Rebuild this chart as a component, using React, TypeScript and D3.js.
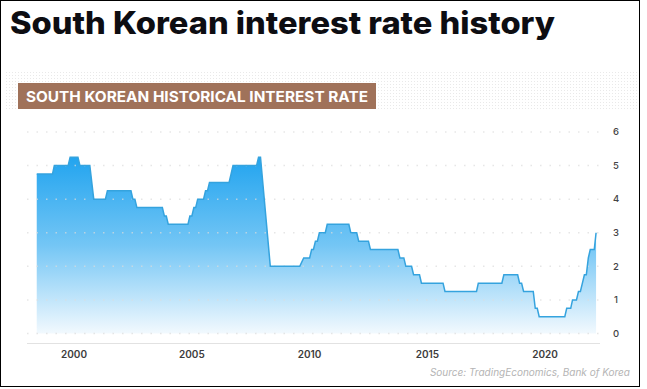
import React, { useEffect, useRef } from 'react';
import * as d3 from 'd3';

// corner points of the drawn line (month, rate %)
const months = [
  '1998-06', '1999-02', '1999-03', '1999-10', '1999-11', '2000-03', '2000-04', '2000-09', '2000-11',
  '2001-05', '2001-06', '2002-06', '2002-07', '2002-08', '2002-09', '2003-10', '2003-11', '2003-12',
  '2004-01', '2004-11', '2004-12', '2005-01', '2005-02', '2005-03', '2005-04', '2005-07', '2005-08',
  '2005-09', '2005-10', '2006-08', '2006-09', '2006-10', '2007-10', '2007-11', '2007-12', '2008-05',
  '2009-08', '2009-10', '2010-01', '2010-02', '2010-03', '2010-04', '2010-05', '2010-06', '2010-09',
  '2010-10', '2011-09', '2011-10', '2012-01', '2012-02', '2012-07', '2012-08', '2013-10', '2013-11',
  '2014-01', '2014-02', '2014-05', '2014-06', '2014-09', '2014-10', '2015-09', '2015-10', '2017-02',
  '2017-03', '2018-03', '2018-04', '2018-11', '2018-12', '2019-01', '2019-02', '2019-07', '2019-08',
  '2019-09', '2019-10', '2020-11', '2020-12', '2021-02', '2021-03', '2021-05', '2021-06', '2021-07',
  '2021-08', '2021-09', '2021-10', '2021-11', '2021-12', '2022-02', '2022-03',
];
const rates = [
  4.75, 4.75, 5.0, 5.0, 5.25, 5.25, 5.0, 5.0, 4.0,
  4.0, 4.25, 4.25, 4.0, 4.0, 3.75, 3.75, 3.5, 3.5,
  3.25, 3.25, 3.5, 3.5, 3.75, 3.75, 4.0, 4.0, 4.25,
  4.25, 4.5, 4.5, 4.75, 5.0, 5.0, 5.25, 5.25, 2.0,
  2.0, 2.25, 2.25, 2.5, 2.5, 2.75, 2.75, 3.0, 3.0,
  3.25, 3.25, 3.0, 3.0, 2.75, 2.75, 2.5, 2.5, 2.25,
  2.25, 2.0, 2.0, 1.75, 1.75, 1.5, 1.5, 1.25, 1.25,
  1.5, 1.5, 1.75, 1.75, 1.5, 1.5, 1.25, 1.25, 0.75,
  0.75, 0.5, 0.5, 0.75, 0.75, 1.0, 1.0, 1.25, 1.25,
  1.5, 1.75, 1.75, 2.25, 2.5, 2.5, 3.0,
];
const yTicks = [0, 1, 2, 3, 4, 5, 6];
const xTickYears = [2000, 2005, 2010, 2015, 2020];

const W = 647;
const H = 389;

export default function App() {
  const ref = useRef<SVGSVGElement>(null);

  useEffect(() => {
    const svg = d3.select(ref.current).html('');
    const parse = d3.timeParse('%Y-%m');
    const data = months.map((m, i) => ({ date: parse(m) as Date, value: rates[i] }));

    const x = d3.scaleTime()
      .domain([new Date(1998, 0, 1), new Date(2022, 4, 1)])
      .range([27, 600]);
    const y = d3.scaleLinear().domain([0, 6]).range([333.5, 132]);

    const defs = svg.append('defs');
    const grad = defs.append('linearGradient')
      .attr('id', 'fillGrad')
      .attr('gradientUnits', 'userSpaceOnUse')
      .attr('x1', 0).attr('x2', 0)
      .attr('y1', y(5.25)).attr('y2', y(0));
    grad.append('stop').attr('offset', '0%').attr('stop-color', '#22a4ef');
    grad.append('stop').attr('offset', '50%').attr('stop-color', '#74c6f5');
    grad.append('stop').attr('offset', '100%').attr('stop-color', '#f2f9fe');

    const pat = defs.append('pattern')
      .attr('id', 'dots')
      .attr('width', 3).attr('height', 3)
      .attr('patternUnits', 'userSpaceOnUse');
    pat.append('rect').attr('width', 1).attr('height', 1).attr('fill', '#e9e9e9');

    // frame
    svg.append('rect')
      .attr('x', 0.5).attr('y', 0.5)
      .attr('width', 639).attr('height', 386)
      .attr('fill', '#fff').attr('stroke', '#000');

    // title
    svg.append('text')
      .attr('x', 10).attr('y', 34)
      .attr('textLength', 545)
      .attr('lengthAdjust', 'spacingAndGlyphs')
      .style('font-family', 'Inter, "Noto Sans", sans-serif')
      .style('font-size', '31px')
      .style('font-weight', 800)
      .attr('fill', '#0d0d12')
      .text('South Korean interest rate history');

    // textured band + label
    svg.append('rect')
      .attr('x', 6).attr('y', 70).attr('width', 633).attr('height', 40)
      .attr('fill', 'url(#dots)');
    svg.append('rect')
      .attr('x', 18).attr('y', 83).attr('width', 358).attr('height', 26)
      .attr('fill', '#a0725a');
    svg.append('text')
      .attr('x', 26).attr('y', 102)
      .attr('textLength', 342)
      .attr('lengthAdjust', 'spacingAndGlyphs')
      .style('font-family', 'Inter, "Noto Sans", sans-serif')
      .style('font-size', '15px')
      .style('font-weight', 700)
      .attr('fill', '#fff')
      .text('SOUTH KOREAN HISTORICAL INTEREST RATE');

    // area + line
    const area = d3.area<{ date: Date; value: number }>()
      .x(d => x(d.date))
      .y0(y(0))
      .y1(d => y(d.value));
    svg.append('path')
      .datum(data)
      .attr('d', area)
      .attr('fill', 'url(#fillGrad)');

    // gridlines
    svg.append('g')
      .selectAll('line')
      .data(yTicks)
      .enter().append('line')
      .attr('x1', 27).attr('x2', 600)
      .attr('y1', d => y(d)).attr('y2', d => y(d))
      .attr('stroke', '#dcdcdc')
      .attr('stroke-opacity', 0.7)
      .attr('stroke-width', 1.5)
      .attr('stroke-dasharray', '1.5 8');

    const line = d3.line<{ date: Date; value: number }>()
      .x(d => x(d.date))
      .y(d => y(d.value));
    svg.append('path')
      .datum(data)
      .attr('d', line)
      .attr('fill', 'none')
      .attr('stroke', '#35a3de')
      .attr('stroke-width', 1.5);

    // x axis
    svg.append('line')
      .attr('x1', 27).attr('x2', 600)
      .attr('y1', 343.5).attr('y2', 343.5)
      .attr('stroke', '#e2e2e2');
    svg.append('g')
      .selectAll('text')
      .data(xTickYears)
      .enter().append('text')
      .attr('x', d => x(new Date(d, 0, 1)))
      .attr('y', 358)
      .attr('text-anchor', 'middle')
      .style('font-family', 'Inter, "Noto Sans", sans-serif')
      .style('font-size', '10px')
      .style('font-weight', 600)
      .attr('fill', '#3c3c3c')
      .text(d => d);

    // y axis labels
    svg.append('g')
      .selectAll('text')
      .data(yTicks)
      .enter().append('text')
      .attr('x', 616)
      .attr('y', d => y(d))
      .attr('dy', '0.35em')
      .attr('text-anchor', 'middle')
      .style('font-family', 'Inter, "Noto Sans", sans-serif')
      .style('font-size', '9.5px')
      .style('font-weight', 500)
      .attr('fill', '#444')
      .text(d => d);

    // source
    svg.append('text')
      .attr('x', 630).attr('y', 376)
      .attr('text-anchor', 'end')
      .style('font-family', 'Inter, "Noto Sans", sans-serif')
      .style('font-size', '10px')
      .style('font-style', 'italic')
      .attr('fill', '#b4b4b4')
      .text('Source: TradingEconomics, Bank of Korea');
  }, []);

  return (
    <div style={{ position: 'absolute', left: 0, top: 0, background: '#fff' }}>
      <svg ref={ref} width={W} height={H} style={{ display: 'block' }} />
    </div>
  );
}
